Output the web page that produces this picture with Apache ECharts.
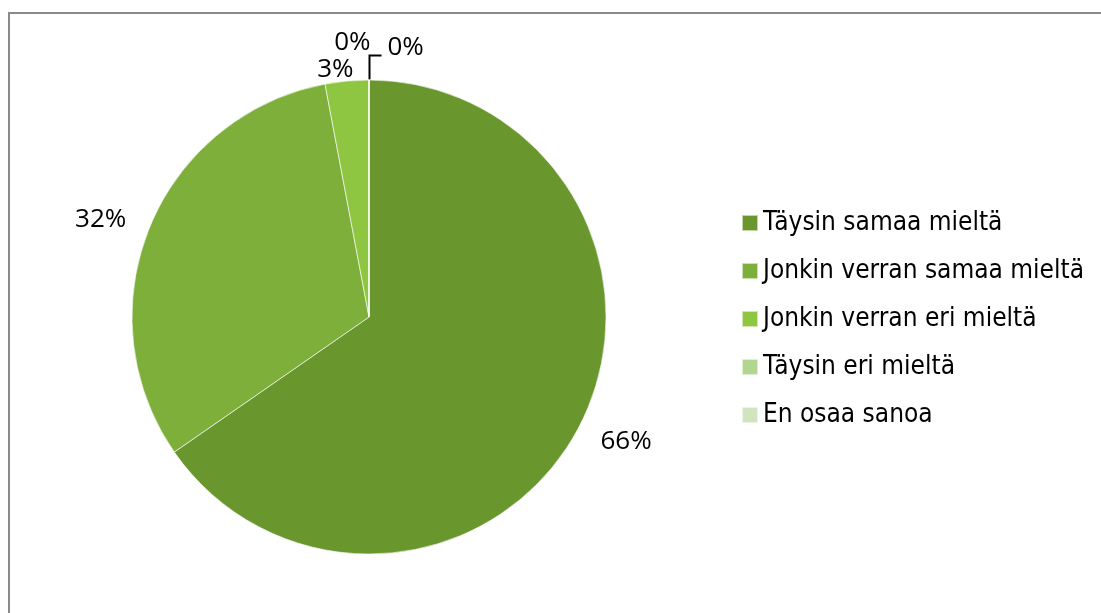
<!DOCTYPE html>
<html>
<head>
<meta charset="utf-8">
<script src="https://cdn.jsdelivr.net/npm/echarts@6/dist/echarts.min.js"></script>
<style>
  html, body { margin: 0; padding: 0; background: #fff; }
  #chart { width: 1101px; height: 613px; }
</style>
</head>
<body>
<div id="chart"></div>
<script>
// Response categories and their shares (%)
const categories = [
  'Täysin samaa mieltä',
  'Jonkin verran samaa mieltä',
  'Jonkin verran eri mieltä',
  'Täysin eri mieltä',
  'En osaa sanoa'
];
const shares = [66, 32, 3, 0, 0];
const sliceColors = ['#6a962e', '#7daf3a', '#8ec641', '#b0d68f', '#d0e4c0'];

const chart = echarts.init(document.getElementById('chart'), null, { renderer: 'canvas' });

// Small slices near the top get their labels placed next to the sector edge
function placeSmallLabels(params) {
  const r = params.rect;
  const lr = params.labelRect;
  if (params.dataIndex === 0) {
    return { dx: -3, dy: 5 };
  }
  if (params.dataIndex === 1) {
    return { dx: 2, dy: 1 };
  }
  if (params.dataIndex === 2) {
    // 3%: sits just left of the slice's top edge
    return { x: r.x + r.width - 16 - lr.width, y: r.y - lr.height + 3, align: 'left', verticalAlign: 'top' };
  }
  if (params.dataIndex === 3) {
    // first 0%: above the 3% label
    return { x: r.x + r.width + 1 - lr.width, y: r.y - lr.height - 24, align: 'left', verticalAlign: 'top' };
  }
  if (params.dataIndex === 4) {
    // second 0%: with a bent leader line up and to the right
    const top = r.y;
    const lx = r.x + r.width;
    return {
      x: lx + 18, y: top - 24 - lr.height + 5, align: 'left', verticalAlign: 'top',
      labelLinePoints: [[lx, top], [lx, top - 24], [lx + 12, top - 24]]
    };
  }
  return {};
}

chart.setOption({
  animation: false,
  backgroundColor: '#ffffff',
  color: sliceColors,
  graphic: [{
    type: 'rect',
    shape: { x: 9, y: 13, width: 1200, height: 700 },
    style: { fill: 'none', stroke: '#8a8a8a', lineWidth: 2 },
    silent: true
  }],
  legend: {
    orient: 'vertical',
    left: 741,
    top: 209,
    padding: 0,
    icon: 'rect',
    itemWidth: 16,
    itemHeight: 16,
    itemGap: 20,
    textStyle: {
      fontFamily: 'DejaVu Sans Condensed',
      fontSize: 26,
      lineHeight: 28,
      color: '#000',
      padding: [0, 0, 0, 0]
    },
    data: categories
  },
  series: [{
    type: 'pie',
    center: [369, 317],
    radius: 237,
    startAngle: 90,
    clockwise: true,
    avoidLabelOverlap: false,
    itemStyle: { borderColor: 'rgba(255,255,255,0.6)', borderWidth: 1 },
    label: {
      show: true,
      position: 'outside',
      formatter: '{c}%',
      fontFamily: 'Open Sans',
      fontSize: 26,
      color: '#000'
    },
    labelLine: { show: false, length: 22, length2: 0 },
    labelLayout: placeSmallLabels,
    data: categories.map((name, i) => ({
      name,
      value: shares[i],
      labelLine: i === 4
        ? { show: true, length: 1, length2: 1, lineStyle: { color: '#000', width: 2 } }
        : undefined
    }))
  }]
});
</script>
</body>
</html>
